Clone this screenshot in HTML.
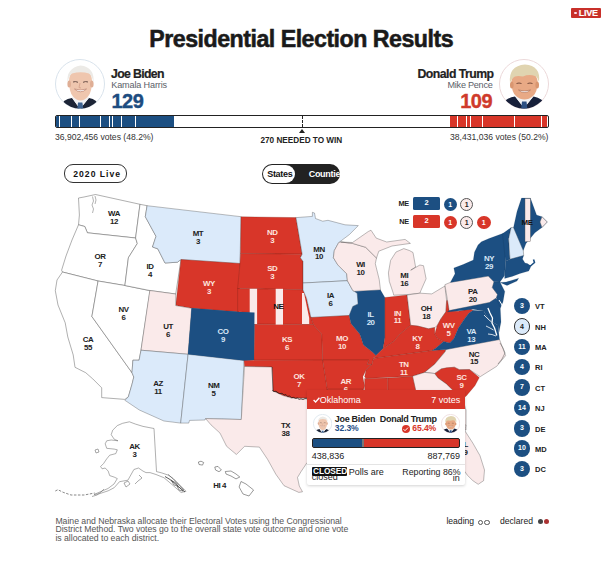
<!DOCTYPE html>
<html><head><meta charset="utf-8"><style>
html,body{margin:0;padding:0;width:609px;height:561px;overflow:hidden;background:#fff;}
body{position:relative;font-family:"Liberation Sans",sans-serif;color:#222;}
.abs{position:absolute;white-space:nowrap;}
.lab{position:absolute;width:40px;text-align:center;font-weight:700;font-size:7.9px;line-height:7.9px;letter-spacing:-0.45px;}
.circ{position:absolute;left:513.7px;width:16.6px;height:16.6px;box-sizing:border-box;border-radius:50%;text-align:center;font-weight:700;font-size:7px;line-height:16.6px;}
.clab{position:absolute;left:535px;font-weight:700;font-size:7.5px;line-height:10px;color:#222;}
.tick{position:absolute;top:1px;width:1px;height:10.5px;background:#fff;}
</style></head><body>
<!-- LIVE badge -->
<div class="abs" style="left:571px;top:8px;width:30px;height:10px;background:#c8302a;border-radius:1px"></div>
<div class="abs" style="left:574.3px;top:11.6px;width:2.6px;height:2.6px;border-radius:50%;background:#fde"></div>
<div class="abs" style="left:578.8px;top:7.7px;font-size:9px;line-height:10.5px;font-weight:700;color:#fff;letter-spacing:-0.25px;-webkit-text-stroke:0.15px #fff">LIVE</div>

<div class="abs" style="left:149.3px;top:24.6px;font-size:23.2px;line-height:28px;font-weight:700;color:#1a1a1a;letter-spacing:-0.5px;-webkit-text-stroke:0.55px #1a1a1a">Presidential Election Results</div>

<!-- Biden -->
<svg class="abs" style="left:55px;top:59px" width="50" height="50" viewBox="0 0 50 50">
<defs><clipPath id="cb"><circle cx="25" cy="25" r="24.5"/></clipPath></defs>
<circle cx="25" cy="25" r="24.5" fill="#fff" stroke="#d9e3ec" stroke-width="1"/>
<g clip-path="url(#cb)">
<path d="M6 51 L9 42 Q12.5 39.5 17 39 L25 50 L34 39 Q38 39.5 41 42 L45 51 Z" fill="#1c2436"/>
<path d="M17 38.5 L25 50 L34 38.5 L31 35 L20 35 Z" fill="#f1f2f4"/>
<path d="M23 43.5 L27.4 43.5 L28.4 51 L22.2 51 Z" fill="#3d6290"/>
<path d="M14 22 Q14 11 25.5 11 Q37 11 37 22 Q37 33 33 37.5 Q29.5 41.5 25.5 41.5 Q21.5 41.5 18 37.5 Q14 33 14 22 Z" fill="#efc6ae"/>
<ellipse cx="14.2" cy="25" rx="1.8" ry="3.5" fill="#dfae95"/>
<ellipse cx="36.8" cy="25" rx="1.8" ry="3.5" fill="#dfae95"/>
<path d="M12.5 24 Q11 9 25.5 6.5 Q40 8 38.5 24 Q37 16 34 14.5 Q26 12 17 14.5 Q14 16 12.5 24 Z" fill="#eceae6"/>
<path d="M18 23 Q20.5 22 23 23.3 M28 23.3 Q30.5 22 33 23" stroke="#6b5048" stroke-width="1" fill="none"/>
<path d="M19.5 30 Q25.5 35.5 31.5 30 Q25.5 32 19.5 30 Z" fill="#fff" stroke="#b57a68" stroke-width="0.6"/>
<path d="M25 24 L24 28.5 L26 29" stroke="#cf9a82" stroke-width="0.7" fill="none"/>
</g></svg>
<div class="abs" style="left:111px;top:67px;font-size:12.3px;line-height:14px;font-weight:700;letter-spacing:-0.65px;color:#222;-webkit-text-stroke:0.2px #222">Joe Biden</div>
<div class="abs" style="left:111.3px;top:79.5px;font-size:9.1px;line-height:10px;color:#5a6068;letter-spacing:-0.15px">Kamala Harris</div>
<div class="abs" style="left:111.5px;top:90px;font-size:20px;line-height:22px;font-weight:700;letter-spacing:-0.55px;color:#1d4c80;-webkit-text-stroke:0.4px #1d4c80">129</div>

<!-- Trump -->
<svg class="abs" style="left:499px;top:59px" width="50" height="50" viewBox="0 0 50 50">
<defs><clipPath id="ct"><circle cx="25" cy="25" r="24.5"/></clipPath></defs>
<circle cx="25" cy="25" r="24.5" fill="#fff" stroke="#ecd9da" stroke-width="1"/>
<g clip-path="url(#ct)">
<path d="M4 51 L7 41 Q11 38 16 37.5 L25 49 L34.5 37.5 Q39 38 43 41 L47 51 Z" fill="#17203a"/>
<path d="M16 37 L25 49 L34.5 37 L31 34 L20 34 Z" fill="#f1f2f4"/>
<path d="M23 42.5 L27.5 42.5 L28.5 51 L22 51 Z" fill="#2b4f82"/>
<path d="M12.5 23 Q12.5 13 25.5 13 Q38.5 13 38.5 23 Q38.5 33 34 37 Q30 40.5 25.5 40.5 Q21 40.5 17 37 Q12.5 33 12.5 23 Z" fill="#e8a985"/>
<ellipse cx="12.8" cy="26" rx="1.8" ry="3.5" fill="#d99670"/>
<ellipse cx="38.2" cy="26" rx="1.8" ry="3.5" fill="#d99670"/>
<path d="M11 24 Q9 7 26 5.5 Q42 6.5 40 23 Q38 17 36 17 Q30 15 24 17.5 Q16 16 14 19 Q12 21 11 24 Z" fill="#e0d4b0"/>
<path d="M17.5 24.5 Q20 23.5 22.5 24.5 M28.5 24.5 Q31 23.5 33.5 24.5" stroke="#7a4e3c" stroke-width="1" fill="none"/>
<path d="M19.5 31 Q25.5 36 31.5 31 Q25.5 33 19.5 31 Z" fill="#fff" stroke="#a86a50" stroke-width="0.6"/>
</g></svg>
<div class="abs" style="left:417.5px;top:67px;font-size:12.3px;line-height:14px;font-weight:700;letter-spacing:-0.55px;color:#222;-webkit-text-stroke:0.2px #222">Donald Trump</div>
<div class="abs" style="left:447.5px;top:79.5px;font-size:9.1px;line-height:10px;color:#5a6068;letter-spacing:-0.25px">Mike Pence</div>
<div class="abs" style="left:460.3px;top:90px;font-size:20px;line-height:22px;font-weight:700;letter-spacing:-0.55px;color:#cf3a2b;-webkit-text-stroke:0.4px #cf3a2b">109</div>

<!-- bar -->
<div class="abs" style="left:55px;top:115px;width:491.5px;height:10.5px;border:1px solid #222;border-radius:2px;background:#fff;overflow:hidden">
 <div class="abs" style="left:0;top:0;width:118px;height:10.5px;background:#1c4f82"></div>
 <div class="abs" style="left:394.4px;top:0;width:97.1px;height:10.5px;background:#d83629"></div>
</div>
<div class="abs" style="left:56px;top:115px;width:0;height:0"><div class="tick" style="left:2.7px"></div><div class="tick" style="left:14.7px"></div><div class="tick" style="left:22.7px"></div><div class="tick" style="left:44.1px"></div><div class="tick" style="left:52.6px"></div><div class="tick" style="left:55.6px"></div><div class="tick" style="left:65.3px"></div><div class="tick" style="left:78.6px"></div><div class="tick" style="left:400.5px"></div><div class="tick" style="left:410.0px"></div><div class="tick" style="left:413.6px"></div><div class="tick" style="left:425.5px"></div><div class="tick" style="left:457.5px"></div><div class="tick" style="left:484.6px"></div></div>
<div class="abs" style="left:301.5px;top:116px;width:0;height:10.5px;border-left:1px dashed #222"></div>
<div class="abs" style="left:298.8px;top:129.3px;width:0;height:0;border-left:3.2px solid transparent;border-right:3.2px solid transparent;border-bottom:4px solid #222"></div>
<div class="abs" style="left:260.5px;top:136.2px;font-size:8.2px;line-height:10px;font-weight:700;color:#222">270 NEEDED TO WIN</div>
<div class="abs" style="left:55px;top:132px;font-size:8.6px;line-height:10px;color:#333">36,902,456 votes (48.2%)</div>
<div class="abs" style="left:450px;top:132px;font-size:8.6px;line-height:10px;color:#333">38,431,036 votes (50.2%)</div>

<!-- toggles -->
<div class="abs" style="left:64.3px;top:164.3px;width:61px;height:16.4px;border:1.2px solid #333;border-radius:9px;background:#fff"></div>
<div class="abs" style="left:73.3px;top:168.5px;font-size:8.6px;line-height:10px;font-weight:700;color:#111;letter-spacing:1.0px">2020 Live</div>
<div class="abs" style="left:261.7px;top:164px;width:78.6px;height:19.9px;border-radius:10px;background:#222;overflow:hidden">
 <div class="abs" style="left:1px;top:1px;width:32.6px;height:17.9px;border-radius:9px;background:#fff"></div>
 <div class="abs" style="left:5.5px;top:4.8px;font-size:9px;line-height:10px;font-weight:700;color:#111;letter-spacing:-0.3px">States</div>
 <div class="abs" style="left:47px;top:4.8px;font-size:9px;line-height:10px;font-weight:700;color:#fff;letter-spacing:-0.3px">Counties</div>
</div>

<!-- map -->
<svg class="abs" style="left:0;top:0" width="609" height="561" viewBox="0 0 609 561">
<polygon points="78.5,198.0 84.0,197.0 95.5,194.5 140.0,204.3 135.6,238.0 87.4,232.8 84.8,226.5 78.5,224.8 79.4,215.0" fill="#ffffff" stroke="#555" stroke-width="0.55" stroke-opacity="0.85" stroke-linejoin="round"/><polygon points="78.5,224.8 84.8,226.5 87.4,232.8 135.6,238.0 137.3,243.5 128.4,257.7 124.9,285.5 98.1,281.0 62.5,272.0 61.6,270.2 66.0,256.0 72.0,240.0" fill="#ffffff" stroke="#555" stroke-width="0.55" stroke-opacity="0.85" stroke-linejoin="round"/><polygon points="62.5,272.0 98.1,281.0 91.9,316.5 132.0,372.7 133.8,377.0 132.0,384.3 128.4,396.7 124.9,399.4 101.7,397.6 101.7,387.8 92.8,378.9 85.7,372.7 75.0,367.3 73.2,354.9 67.8,337.0 65.2,322.8 58.0,305.0 55.3,290.7 57.0,280.0" fill="#ffffff" stroke="#555" stroke-width="0.55" stroke-opacity="0.85" stroke-linejoin="round"/><polygon points="98.1,281.0 124.9,285.5 150.0,290.7 141.0,350.2 139.1,360.2 132.9,360.2 132.0,372.7 91.9,316.5" fill="#ffffff" stroke="#555" stroke-width="0.55" stroke-opacity="0.85" stroke-linejoin="round"/><polygon points="140.0,204.3 147.1,205.7 145.3,216.7 156.0,236.3 152.5,247.0 157.8,248.8 165.0,263.0 177.4,262.2 181.0,259.5 175.7,294.0 149.8,290.5 124.9,285.5 128.4,257.7 137.3,243.5 135.6,238.0" fill="#ffffff" stroke="#555" stroke-width="0.55" stroke-opacity="0.85" stroke-linejoin="round"/><polygon points="147.1,205.7 241.0,216.7 240.0,263.5 181.0,259.5 177.4,262.2 165.0,263.0 157.8,248.8 152.5,247.0 156.0,236.3 145.3,216.7" fill="#dbeafa" stroke="#333" stroke-width="0.55" stroke-opacity="0.6" stroke-linejoin="round"/><polygon points="181.0,259.5 240.0,263.5 239.0,311.9 191.7,308.3 175.7,305.6" fill="#d83629" stroke="#5a1a12" stroke-width="0.5" stroke-opacity="0.45" stroke-linejoin="round"/><polygon points="149.8,290.5 175.7,294.0 175.7,305.6 191.7,308.3 188.1,354.3 141.0,350.2" fill="#faeaea" stroke="#333" stroke-width="0.55" stroke-opacity="0.6" stroke-linejoin="round"/><polygon points="191.7,308.3 239.0,311.9 254.5,312.5 254.0,360.0 244.0,360.6 188.1,354.3" fill="#1c4f82" stroke="#102a48" stroke-width="0.4" stroke-opacity="0.3" stroke-linejoin="round"/><polygon points="141.0,350.2 188.1,354.3 180.7,423.1 163.9,421.0 139.3,410.0 124.9,400.3 128.4,396.7 132.0,384.3 133.8,377.0 132.0,372.7 132.9,360.2 139.1,360.2" fill="#dbeafa" stroke="#333" stroke-width="0.55" stroke-opacity="0.6" stroke-linejoin="round"/><polygon points="188.1,354.3 244.0,360.6 241.3,419.5 205.6,418.6 205.0,420.0 189.6,420.4 188.7,423.1 180.7,423.1" fill="#dbeafa" stroke="#333" stroke-width="0.55" stroke-opacity="0.6" stroke-linejoin="round"/><polygon points="241.0,216.7 296.0,217.6 300.4,243.5 302.2,254.2 240.5,253.5" fill="#d83629" stroke="#5a1a12" stroke-width="0.5" stroke-opacity="0.45" stroke-linejoin="round"/><polygon points="240.5,253.5 302.2,254.2 300.4,257.7 303.0,261.3 303.0,289.8 237.6,288.5 240.0,263.5" fill="#d83629" stroke="#5a1a12" stroke-width="0.5" stroke-opacity="0.45" stroke-linejoin="round"/><polygon points="237.6,288.5 303.0,289.8 306.6,298.4 310.5,315.5 313.5,324.5 254.5,324.2 254.5,312.5 237.6,311.7" fill="#d83629" stroke="#5a1a12" stroke-width="0.5" stroke-opacity="0.45" stroke-linejoin="round"/><polygon points="254.5,324.2 313.5,324.5 316.0,328.0 321.8,334.2 322.7,360.3 254.0,360.3" fill="#d83629" stroke="#5a1a12" stroke-width="0.5" stroke-opacity="0.45" stroke-linejoin="round"/><polygon points="244.0,360.2 322.7,360.0 327.3,389.2 327.5,398.0 307.7,398.1 291.7,398.1 282.8,395.5 273.0,391.0 272.0,367.0 244.5,366.5" fill="#d83629" stroke="#5a1a12" stroke-width="0.5" stroke-opacity="0.45" stroke-linejoin="round"/><polygon points="244.5,366.5 272.0,367.0 273.0,391.0 282.8,395.5 291.7,398.1 327.5,398.0 330.0,425.0 332.0,445.0 307.0,462.7 301.0,471.7 297.5,477.5 299.3,486.0 302.5,491.8 298.8,492.4 284.0,485.7 275.8,474.2 267.6,459.4 259.4,447.1 244.6,446.3 236.4,454.5 226.6,446.3 220.0,433.1 211.0,424.9 205.6,418.6 241.3,419.5" fill="#faeaea" stroke="#333" stroke-width="0.55" stroke-opacity="0.6" stroke-linejoin="round"/><polygon points="296.0,217.6 312.4,216.4 312.4,212.3 314.5,213.0 315.5,218.5 322.7,221.2 328.0,220.3 345.0,224.8 358.3,225.6 349.4,234.6 338.7,242.6 334.3,250.6 333.4,257.7 337.8,264.9 346.7,273.8 347.4,280.7 303.0,283.0 303.0,261.3 300.4,257.7 302.2,254.2 300.4,243.5" fill="#dbeafa" stroke="#333" stroke-width="0.55" stroke-opacity="0.6" stroke-linejoin="round"/><polygon points="303.0,283.0 347.4,280.7 352.8,290.5 357.2,293.2 358.1,303.9 352.8,306.5 349.2,315.5 311.0,317.5 310.5,315.5 306.6,298.4 303.0,289.8" fill="#dbeafa" stroke="#333" stroke-width="0.55" stroke-opacity="0.6" stroke-linejoin="round"/><polygon points="311.0,317.5 349.2,315.5 351.0,323.5 359.9,334.2 363.5,344.9 372.4,352.0 376.0,355.6 373.5,358.0 372.0,364.5 367.0,364.5 368.8,360.0 322.7,360.0 321.8,334.2 316.0,328.0 313.5,324.5" fill="#d83629" stroke="#5a1a12" stroke-width="0.5" stroke-opacity="0.45" stroke-linejoin="round"/><polygon points="322.7,360.0 368.8,360.0 367.0,364.5 372.0,364.5 366.0,370.0 362.8,376.7 364.6,385.7 363.0,392.0 327.3,392.0 327.3,389.2" fill="#d83629" stroke="#5a1a12" stroke-width="0.5" stroke-opacity="0.45" stroke-linejoin="round"/><polygon points="327.3,389.0 363.0,389.0 363.0,420.0 330.0,420.0" fill="#d83629" stroke="#5a1a12" stroke-width="0.5" stroke-opacity="0.45" stroke-linejoin="round"/><polygon points="338.7,242.6 340.7,242.0 352.5,243.4 365.7,247.3 376.5,258.0 375.3,263.7 379.2,279.4 380.5,290.0 354.6,291.4 352.8,290.5 347.4,280.7 346.7,273.8 337.8,264.9 333.4,257.7 334.3,250.6" fill="#faeaea" stroke="#333" stroke-width="0.55" stroke-opacity="0.6" stroke-linejoin="round"/><polygon points="340.7,242.0 352.5,242.5 368.3,231.5 371.0,230.2 376.2,238.1 386.7,242.0 405.1,239.4 410.4,243.4 392.0,246.0 378.8,251.2 376.5,258.0 365.7,247.3 352.5,243.4" fill="#faeaea" stroke="#333" stroke-width="0.55" stroke-opacity="0.6" stroke-linejoin="round"/><polygon points="403.8,248.6 409.4,250.5 413.0,252.5 415.6,267.0 410.7,270.2 419.9,265.0 423.5,265.7 426.1,278.8 420.9,290.6 419.9,293.2 408.1,294.5 393.7,295.2 393.3,293.3 389.3,281.4 388.4,272.9 390.6,260.4 396.0,252.0" fill="#faeaea" stroke="#333" stroke-width="0.55" stroke-opacity="0.6" stroke-linejoin="round"/><polygon points="354.6,291.4 380.5,290.0 384.9,297.6 384.9,337.7 383.1,348.4 376.0,355.6 372.4,352.0 363.5,344.9 359.9,334.2 351.0,323.5 349.2,315.5 352.8,306.5 358.1,303.9 357.2,293.2" fill="#1c4f82" stroke="#102a48" stroke-width="0.4" stroke-opacity="0.3" stroke-linejoin="round"/><polygon points="384.9,297.6 393.7,296.5 407.1,295.0 410.7,325.3 400.0,334.0 393.8,341.3 383.1,348.4 384.9,337.7" fill="#d83629" stroke="#5a1a12" stroke-width="0.5" stroke-opacity="0.45" stroke-linejoin="round"/><polygon points="407.1,295.0 419.9,293.2 431.8,293.9 444.9,286.0 446.6,300.5 445.9,311.8 440.7,319.2 437.0,326.0 434.8,327.5 428.5,328.8 417.8,326.1 410.7,325.3" fill="#faeaea" stroke="#333" stroke-width="0.55" stroke-opacity="0.6" stroke-linejoin="round"/><polygon points="376.0,355.6 383.1,348.4 393.8,341.3 400.0,334.0 410.7,325.3 417.8,326.1 428.5,328.8 434.8,327.5 434.8,334.0 437.7,338.4 443.6,341.4 436.0,348.0 432.1,350.5 373.5,358.5" fill="#d83629" stroke="#5a1a12" stroke-width="0.5" stroke-opacity="0.45" stroke-linejoin="round"/><polygon points="434.8,334.0 437.0,326.0 440.7,319.2 445.9,311.8 446.6,300.5 448.8,300.5 449.0,311.0 458.4,311.2 462.8,310.3 470.2,308.9 473.2,310.3 468.8,313.3 464.3,319.2 458.4,328.1 454.0,338.4 449.6,342.9 443.6,341.4 437.7,338.4" fill="#d83629" stroke="#5a1a12" stroke-width="0.5" stroke-opacity="0.45" stroke-linejoin="round"/><polygon points="373.5,358.5 432.1,350.5 446.0,349.5 445.3,351.6 434.6,364.3 424.6,372.4 412.5,376.3 366.3,378.5 364.6,377.0 366.0,370.0 372.0,364.5" fill="#d83629" stroke="#5a1a12" stroke-width="0.5" stroke-opacity="0.45" stroke-linejoin="round"/><polygon points="446.0,349.5 499.5,339.5 505.6,355.6 496.7,366.3 480.2,376.7 469.5,369.6 459.3,369.7 454.3,367.2 441.2,368.9 434.6,373.5 424.6,372.4 434.6,364.3 445.3,351.6" fill="#faeaea" stroke="#333" stroke-width="0.55" stroke-opacity="0.6" stroke-linejoin="round"/><polygon points="434.6,373.8 441.2,368.9 446.3,367.8 454.3,367.2 459.3,369.7 469.5,369.6 479.3,377.6 474.9,385.7 466.0,396.3 462.4,398.1 453.5,391.0 446.3,383.9 438.0,378.0" fill="#d83629" stroke="#5a1a12" stroke-width="0.5" stroke-opacity="0.45" stroke-linejoin="round"/><polygon points="412.5,376.3 424.6,372.4 434.6,373.5 438.0,378.0 446.3,383.9 453.5,391.0 462.4,398.1 466.0,410.0 466.0,430.0 420.0,430.0 415.5,389.7" fill="#faeaea" stroke="#333" stroke-width="0.55" stroke-opacity="0.6" stroke-linejoin="round"/><polygon points="420.0,425.0 466.0,425.0 464.8,430.7 472.9,443.2 480.0,455.7 484.5,470.0 483.6,480.7 478.2,484.3 472.9,480.7 467.5,475.4 460.0,465.0 420.0,440.0" fill="#faeaea" stroke="#333" stroke-width="0.55" stroke-opacity="0.6" stroke-linejoin="round"/><polygon points="387.7,378.0 412.5,376.3 415.5,389.7 416.0,430.0 388.0,430.0" fill="#d83629" stroke="#5a1a12" stroke-width="0.5" stroke-opacity="0.45" stroke-linejoin="round"/><polygon points="364.6,378.5 387.7,378.0 388.0,430.0 364.6,430.0" fill="#d83629" stroke="#5a1a12" stroke-width="0.5" stroke-opacity="0.45" stroke-linejoin="round"/><polygon points="444.9,284.7 450.3,282.4 488.3,276.1 494.0,281.8 492.3,287.6 497.5,294.5 496.3,298.0 489.4,302.5 449.2,310.6" fill="#faeaea" stroke="#333" stroke-width="0.55" stroke-opacity="0.6" stroke-linejoin="round"/><polygon points="450.3,282.4 455.0,273.8 453.8,268.0 463.0,264.6 473.3,260.0 474.5,252.0 478.0,245.0 481.4,241.7 489.0,238.5 504.6,232.8 505.5,261.3 504.6,275.6 500.0,282.0 494.0,281.8 488.3,276.1" fill="#1c4f82" stroke="#102a48" stroke-width="0.4" stroke-opacity="0.3" stroke-linejoin="round"/><polygon points="500.0,282.5 506.2,282.0 518.7,278.2 517.0,281.0 507.0,285.5" fill="#1c4f82" stroke="#102a48" stroke-width="0.4" stroke-opacity="0.3" stroke-linejoin="round"/><polygon points="502.5,233.7 511.2,227.5 508.7,238.7 510.0,259.3 505.5,261.3" fill="#1c4f82" stroke="#102a48" stroke-width="0.4" stroke-opacity="0.3" stroke-linejoin="round"/><polygon points="511.2,227.5 513.5,227.4 523.3,250.6 523.7,255.5 510.0,259.3 508.7,238.7" fill="#dbeafa" stroke="#333" stroke-width="0.55" stroke-opacity="0.6" stroke-linejoin="round"/><polygon points="513.5,227.4 517.0,211.4 521.5,198.0 530.4,198.0 536.6,215.0 542.0,216.7 547.3,222.0 542.0,227.4 534.9,232.8 526.0,243.5 523.3,250.6" fill="#1c4f82" stroke="#102a48" stroke-width="0.4" stroke-opacity="0.3" stroke-linejoin="round"/><polygon points="505.5,261.3 510.0,259.3 523.7,255.5 522.5,259.0 525.0,263.0 527.4,263.6 531.0,266.0 530.0,268.5 528.7,271.1 520.0,273.5 512.0,276.5 504.6,278.5" fill="#1c4f82" stroke="#102a48" stroke-width="0.4" stroke-opacity="0.3" stroke-linejoin="round"/><polygon points="500.0,282.0 504.8,291.4 503.0,302.0 500.3,308.3 495.0,302.0 497.1,298.5 496.3,298.0 497.5,294.5 492.3,287.6 494.0,281.8" fill="#1c4f82" stroke="#102a48" stroke-width="0.4" stroke-opacity="0.3" stroke-linejoin="round"/><polygon points="449.2,310.6 489.4,302.5 496.3,298.0 500.3,308.3 501.0,322.0 499.0,332.0 498.0,325.3 489.1,320.0 483.8,311.0 473.0,309.2 457.0,311.0 447.2,311.9" fill="#1c4f82" stroke="#102a48" stroke-width="0.4" stroke-opacity="0.3" stroke-linejoin="round"/><polygon points="432.1,350.5 436.0,348.0 443.6,341.4 449.6,342.9 454.0,338.4 458.4,328.1 464.3,319.2 468.8,313.3 473.2,310.3 483.8,311.0 489.1,320.0 498.0,325.3 499.0,335.0 499.5,339.5 446.0,349.5" fill="#1c4f82" stroke="#102a48" stroke-width="0.4" stroke-opacity="0.3" stroke-linejoin="round"/><polygon points="112.7,430.2 117.3,425.6 122.6,423.3 129.4,421.8 135.5,424.1 143.0,426.4 154.0,428.5 156.5,471.6 161.4,472.8 168.8,475.3 176.2,481.4 186.0,491.3 181.1,492.5 171.3,483.9 163.9,477.7 156.0,474.5 150.0,472.6 146.0,472.6 143.0,471.1 138.5,468.0 133.9,469.5 127.9,480.2 119.5,481.7 114.2,487.7 108.2,490.8 99.1,493.8 94.0,494.5 99.1,492.3 108.0,488.5 114.0,484.0 117.3,478.6 114.2,477.1 109.7,475.6 108.2,471.1 105.2,468.0 102.1,468.8 100.6,466.5 103.6,463.5 106.7,458.9 109.7,455.2 115.8,453.6 117.3,449.8 114.2,449.1 106.7,448.3 105.2,443.8 106.7,440.8 111.2,440.0 118.0,440.8 114.2,439.2 111.2,434.7" fill="#ffffff" stroke="#555" stroke-width="0.55" stroke-opacity="0.85" stroke-linejoin="round"/><rect x="249.7" y="288.8" width="7.4" height="35.2" fill="#faeaea"/><rect x="275.7" y="288.8" width="7.3" height="35.8" fill="#faeaea"/><polygon points="302,293 304,293 309.2,318 309.2,324 302,324" fill="#faeaea"/><polygon points="191.7,308.3 239.0,311.9 254.5,312.5 254.0,360.0 244.0,360.6 188.1,354.3" fill="#1c4f82"/><rect x="525" y="198.5" width="5.4" height="43.2" fill="#faeaea" stroke="#555" stroke-width="0.4"/><polygon points="542,216.7 547.3,222 542,227.4 540,222" fill="#faeaea" stroke="#555" stroke-width="0.4"/><polyline points="272.4,390.6 274.0,391.6 276.0,391.2 278.0,392.8 279.8,393.6 282.0,393.3 284.0,395.0 286.0,394.6 287.5,396.4 289.5,396.0 291.5,397.6 293.7,397.4 295.5,398.5 297.5,398.0 299.0,399.4 301.0,398.8 303.0,399.5 305.0,398.6 307.5,398.8" fill="none" stroke="#2a1a18" stroke-width="1" stroke-opacity="0.8" stroke-linejoin="round"/><polyline points="272,367 273,391" fill="none" stroke="#2a1a18" stroke-width="0.7" stroke-opacity="0.6"/><polyline points="525,266 531,265.5 534.5,262.5 533.5,259.5" fill="none" stroke="#1c4f82" stroke-width="1.6" stroke-linejoin="round"/><polyline points="92.5,196.5 93.5,201 92,205 93.5,209 92.5,213" fill="none" stroke="#666" stroke-width="0.5"/><polyline points="95,196 96,200 95,204" fill="none" stroke="#666" stroke-width="0.5"/><polyline points="55.3,491 57.9,489.7 63.1,492.3 71,495 84.2,495 94.7,493" fill="none" stroke="#555" stroke-width="0.7" stroke-dasharray="2.5,1.5"/><polygon points="124,483 128,481 130,484 126,487" fill="#fff" stroke="#555" stroke-width="0.5"/><polygon points="95,450 98,449 99,452 96,453" fill="#fff" stroke="#555" stroke-width="0.5"/><polyline points="165,476.5 170,479.5 175,483.5 180,488 185,492" fill="none" stroke="#444" stroke-width="0.9"/><polyline points="168,474.5 173,478.5 178,484 184,490" fill="none" stroke="#555" stroke-width="0.6"/><polygon points="171,480 176,483 178,486 174,485" fill="none" stroke="#444" stroke-width="0.6"/><polygon points="177,486 181,488.5 183,491 179,490" fill="none" stroke="#444" stroke-width="0.6"/><polyline points="139,475 142,478 138,481 135,484" fill="none" stroke="#555" stroke-width="0.5"/><polyline points="104,489 101,492 97,495 92,496.5" fill="none" stroke="#555" stroke-width="0.5"/><polyline points="487.9,308 490,313 492.5,318 492,323 494.5,328 496.8,335.5" fill="none" stroke="#fff" stroke-width="1.3" stroke-linejoin="round"/><polyline points="484,315 488,319 491.5,322" fill="none" stroke="#fff" stroke-width="0.8"/><polyline points="486,326 490,328 493.5,330" fill="none" stroke="#fff" stroke-width="0.8"/><polyline points="488,334 492,334.5 496,336" fill="none" stroke="#fff" stroke-width="0.8"/><polyline points="499,300 501.5,304 503,308" fill="none" stroke="#fff" stroke-width="1"/><polyline points="500,343 503,348 505,353 502,359 498,364" fill="none" stroke="#555" stroke-width="0.5"/><polygon points="198.4,462.0 201.0,461.2 203.7,462.5 202.5,465.1 199.0,464.5" fill="#fff" stroke="#555" stroke-width="0.6"/><polygon points="214.8,467.0 218.0,466.4 221.4,470.0 219.0,471.7 215.5,470.0" fill="#fff" stroke="#555" stroke-width="0.6"/><polygon points="225.3,471.5 231.0,471.0 236.0,474.0 239.8,477.0 236.0,478.9 231.0,476.0 226.0,474.0" fill="#fff" stroke="#555" stroke-width="0.6"/><polygon points="241.0,481.5 246.0,484.0 253.6,490.0 249.0,496.0 243.0,494.0 239.1,487.0" fill="#fff" stroke="#555" stroke-width="0.6"/>
</svg>
<div class="lab" style="left:94px;top:209.9px;color:#222">WA<br>12</div><div class="lab" style="left:80px;top:252.9px;color:#222">OR<br>7</div><div class="lab" style="left:130px;top:262.9px;color:#222">ID<br>4</div><div class="lab" style="left:178px;top:229.9px;color:#222">MT<br>3</div><div class="lab" style="left:189px;top:279.9px;color:#fde4df">WY<br>3</div><div class="lab" style="left:148px;top:323.4px;color:#222">UT<br>6</div><div class="lab" style="left:203px;top:327.9px;color:#d8e8f7">CO<br>9</div><div class="lab" style="left:103.5px;top:305.9px;color:#222">NV<br>6</div><div class="lab" style="left:68px;top:336.4px;color:#222">CA<br>55</div><div class="lab" style="left:138px;top:379.9px;color:#222">AZ<br>11</div><div class="lab" style="left:193.6px;top:382.4px;color:#222">NM<br>5</div><div class="lab" style="left:252.3px;top:229.4px;color:#fde4df">ND<br>3</div><div class="lab" style="left:252.3px;top:265.2px;color:#fde4df">SD<br>3</div><div class="lab" style="left:267px;top:336.2px;color:#fde4df">KS<br>6</div><div class="lab" style="left:279px;top:372.59999999999997px;color:#fde4df">OK<br>7</div><div class="lab" style="left:265.5px;top:422.4px;color:#222">TX<br>38</div><div class="lab" style="left:299px;top:245.5px;color:#222">MN<br>10</div><div class="lab" style="left:310.5px;top:291.7px;color:#222">IA<br>6</div><div class="lab" style="left:322px;top:335.4px;color:#fde4df">MO<br>10</div><div class="lab" style="left:350.6px;top:311.29999999999995px;color:#d8e8f7">IL<br>20</div><div class="lab" style="left:377.4px;top:309.5px;color:#fde4df">IN<br>11</div><div class="lab" style="left:340.5px;top:260.7px;color:#222">WI<br>10</div><div class="lab" style="left:384.3px;top:272.29999999999995px;color:#222">MI<br>16</div><div class="lab" style="left:406.3px;top:305.0px;color:#222">OH<br>18</div><div class="lab" style="left:452.8px;top:287.9px;color:#222">PA<br>20</div><div class="lab" style="left:428.6px;top:322.0px;color:#fde4df">WV<br>5</div><div class="lab" style="left:451.3px;top:328.2px;color:#d8e8f7">VA<br>13</div><div class="lab" style="left:397.4px;top:335.4px;color:#fde4df">KY<br>8</div><div class="lab" style="left:454px;top:350.5px;color:#222">NC<br>15</div><div class="lab" style="left:383.8px;top:361.0px;color:#fde4df">TN<br>11</div><div class="lab" style="left:325.8px;top:377.9px;color:#fde4df">AR<br>6</div><div class="lab" style="left:441.5px;top:374.2px;color:#fde4df">SC<br>9</div><div class="lab" style="left:469px;top:255.4px;color:#d8e8f7">NY<br>29</div><div class="lab" style="left:114.5px;top:442.7px;color:#222">AK<br>3</div><div class="lab" style="left:443.5px;top:440.7px;color:#222">FL<br>29</div><div class="lab" style="left:507px;top:218.5px;color:#111">ME</div><div class="lab" style="left:258.4px;top:302.5px;color:#111;font-size:8px">NE</div><div class="lab" style="left:199.5px;top:482px;color:#222;width:40px">HI 4</div>

<!-- ME/NE legend -->
<div class="abs" style="left:398.4px;top:199px;font-size:7.3px;line-height:10px;font-weight:700;color:#222;letter-spacing:-0.3px">ME</div>
<div class="abs" style="left:399.3px;top:217.3px;font-size:7.3px;line-height:10px;font-weight:700;color:#222;letter-spacing:-0.3px">NE</div>
<div class="abs" style="left:413.4px;top:197.2px;width:26.2px;height:12.8px;border-radius:1.5px;background:#1c4f82;color:#fff;font-size:7.5px;font-weight:700;line-height:12.8px;text-align:center">2</div>
<div class="abs" style="left:443.7px;top:197.5px;width:13px;height:13px;border-radius:50%;background:#1c4f82;color:#fff;font-size:7px;font-weight:700;line-height:13px;text-align:center">1</div>
<div class="abs" style="left:460.2px;top:197.5px;width:13px;height:13px;box-sizing:border-box;border:1px solid #555;border-radius:50%;background:#faeaea;color:#222;font-size:7px;font-weight:700;line-height:11px;text-align:center">1</div>
<div class="abs" style="left:413.4px;top:215.3px;width:26.2px;height:12.8px;border-radius:1.5px;background:#d83629;color:#fff;font-size:7.5px;font-weight:700;line-height:12.8px;text-align:center">2</div>
<div class="abs" style="left:443.7px;top:215.7px;width:13px;height:13px;border-radius:50%;background:#d83629;color:#fff;font-size:7px;font-weight:700;line-height:13px;text-align:center">1</div>
<div class="abs" style="left:460.2px;top:215.7px;width:13px;height:13px;box-sizing:border-box;border:1px solid #555;border-radius:50%;background:#faeaea;color:#222;font-size:7px;font-weight:700;line-height:11px;text-align:center">1</div>
<div class="abs" style="left:477px;top:215.7px;width:13.5px;height:13px;border-radius:50%;background:#d83629;color:#fff;font-size:7px;font-weight:700;line-height:13px;text-align:center">1</div>

<div class="circ" style="top:297.7px;background:#1c4f82;border:none;color:#fff">3</div><div class="clab" style="top:302.2px">VT</div><div class="circ" style="top:318.1px;background:#dbeafa;border:1px solid #333;color:#222">4</div><div class="clab" style="top:322.6px">NH</div><div class="circ" style="top:338.5px;background:#1c4f82;border:none;color:#fff">11</div><div class="clab" style="top:343.0px">MA</div><div class="circ" style="top:358.8px;background:#1c4f82;border:none;color:#fff">4</div><div class="clab" style="top:363.3px">RI</div><div class="circ" style="top:379.2px;background:#1c4f82;border:none;color:#fff">7</div><div class="clab" style="top:383.7px">CT</div><div class="circ" style="top:399.6px;background:#1c4f82;border:none;color:#fff">14</div><div class="clab" style="top:404.1px">NJ</div><div class="circ" style="top:420.0px;background:#1c4f82;border:none;color:#fff">3</div><div class="clab" style="top:424.5px">DE</div><div class="circ" style="top:440.4px;background:#1c4f82;border:none;color:#fff">10</div><div class="clab" style="top:444.9px">MD</div><div class="circ" style="top:460.7px;background:#1c4f82;border:none;color:#fff">3</div><div class="clab" style="top:465.2px">DC</div>

<!-- popup -->
<div class="abs" style="left:306.8px;top:389.5px;width:158.2px;height:95.5px;background:#fff;box-shadow:0 1px 3px rgba(0,0,0,0.18);border-radius:0 0 2px 2px;overflow:hidden">
 <div class="abs" style="left:0;top:0;width:158.2px;height:19px;background:#d83629"></div>
 <svg class="abs" style="left:5.8px;top:7.5px" width="7" height="6" viewBox="0 0 7 6"><path d="M0.6 3 L2.6 5 L6.4 0.8" stroke="#fff" stroke-width="1.3" fill="none"/></svg>
 <div class="abs" style="left:13px;top:5.5px;font-size:9px;line-height:10px;color:#fff">Oklahoma</div>
 <div class="abs" style="left:124.5px;top:5.5px;font-size:9px;line-height:10px;color:#fff">7 votes</div>
 <div class="abs" style="left:28px;top:24.5px;font-size:9px;line-height:10px;font-weight:700;color:#222;letter-spacing:-0.3px">Joe Biden</div>
 <div class="abs" style="left:28px;top:33.5px;font-size:8.6px;line-height:10px;font-weight:700;color:#1f4f87;letter-spacing:-0.1px">32.3%</div>
 <div class="abs" style="left:73px;top:24.5px;font-size:9px;line-height:10px;font-weight:700;color:#222;letter-spacing:-0.3px">Donald Trump</div>
 <div class="abs" style="left:95.2px;top:35px;width:8px;height:8px;border-radius:50%;background:#d83629"></div>
 <svg class="abs" style="left:96.5px;top:37px" width="5.5" height="4.5" viewBox="0 0 5.5 4.5"><path d="M0.5 2.2 L2 3.7 L5 0.6" stroke="#fff" stroke-width="1" fill="none"/></svg>
 <div class="abs" style="left:105.5px;top:33.5px;font-size:8.6px;line-height:10px;font-weight:700;color:#d83629;letter-spacing:-0.1px">65.4%</div>
 <div class="abs" style="left:5px;top:48.7px;width:146.4px;height:7.8px;border:1px solid #222;border-radius:2px;overflow:hidden;background:#d83629">
  <div class="abs" style="left:0;top:0;width:48.8px;height:7.8px;background:#1c4f82"></div>
  <div class="abs" style="left:48.8px;top:0;width:2.4px;height:7.8px;background:#777"></div>
 </div>
 <div class="abs" style="left:5px;top:61.5px;font-size:9px;line-height:10px;color:#222">438,836</div>
 <div class="abs" style="left:120.8px;top:61.5px;font-size:9px;line-height:10px;color:#222">887,769</div>
 <div class="abs" style="left:0;top:74.7px;width:158.2px;height:1px;background:#e4e4e4"></div>
 <div class="abs" style="left:5px;top:82.5px;font-size:9px;line-height:10px;color:#222">closed</div>
 <div class="abs" style="left:5px;top:77px;width:35px;height:9.5px;background:#111;border-radius:1px"></div>
 <div class="abs" style="left:6.3px;top:76.8px;font-size:8.3px;line-height:10px;font-weight:700;color:#fff;letter-spacing:-0.1px">CLOSED</div>
 <div class="abs" style="left:42px;top:77px;font-size:9px;line-height:10px;color:#222">Polls are</div>
 <div class="abs" style="left:95.5px;top:77px;font-size:8.8px;line-height:10px;color:#222">Reporting 86%</div>
 <div class="abs" style="left:146px;top:83.5px;font-size:9px;line-height:10px;color:#222">in</div>
</div>
<!-- popup photos -->
<svg class="abs" style="left:312.6px;top:414.2px" width="19.2" height="19.2" viewBox="0 0 50 50">
<defs><clipPath id="cb2"><circle cx="25" cy="25" r="24"/></clipPath></defs>
<circle cx="25" cy="25" r="24" fill="#fff" stroke="#d9e3ec" stroke-width="2"/>
<g clip-path="url(#cb2)">
<path d="M6 51 L9 42 Q12.5 39.5 17 39 L25 50 L34 39 Q38 39.5 41 42 L45 51 Z" fill="#1c2436"/>
<path d="M17 38.5 L25 50 L34 38.5 L31 35 L20 35 Z" fill="#f1f2f4"/>
<path d="M23 43.5 L27.4 43.5 L28.4 51 L22.2 51 Z" fill="#3d6290"/>
<path d="M14 22 Q14 11 25.5 11 Q37 11 37 22 Q37 33 33 37.5 Q29.5 41.5 25.5 41.5 Q21.5 41.5 18 37.5 Q14 33 14 22 Z" fill="#efc6ae"/>
<ellipse cx="14.2" cy="25" rx="1.8" ry="3.5" fill="#dfae95"/>
<ellipse cx="36.8" cy="25" rx="1.8" ry="3.5" fill="#dfae95"/>
<path d="M12.5 24 Q11 9 25.5 6.5 Q40 8 38.5 24 Q37 16 34 14.5 Q26 12 17 14.5 Q14 16 12.5 24 Z" fill="#eceae6"/>
<path d="M18 23 Q20.5 22 23 23.3 M28 23.3 Q30.5 22 33 23" stroke="#6b5048" stroke-width="1" fill="none"/>
<path d="M19.5 30 Q25.5 35.5 31.5 30 Q25.5 32 19.5 30 Z" fill="#fff" stroke="#b57a68" stroke-width="0.6"/>
<path d="M25 24 L24 28.5 L26 29" stroke="#cf9a82" stroke-width="0.7" fill="none"/>
</g></svg>
<svg class="abs" style="left:440.5px;top:414.2px" width="19.2" height="19.2" viewBox="0 0 50 50">
<defs><clipPath id="ct2"><circle cx="25" cy="25" r="24"/></clipPath></defs>
<circle cx="25" cy="25" r="24" fill="#fff" stroke="#ecd9da" stroke-width="2"/>
<g clip-path="url(#ct2)">
<path d="M4 51 L7 41 Q11 38 16 37.5 L25 49 L34.5 37.5 Q39 38 43 41 L47 51 Z" fill="#17203a"/>
<path d="M16 37 L25 49 L34.5 37 L31 34 L20 34 Z" fill="#f1f2f4"/>
<path d="M23 42.5 L27.5 42.5 L28.5 51 L22 51 Z" fill="#2b4f82"/>
<path d="M12.5 23 Q12.5 13 25.5 13 Q38.5 13 38.5 23 Q38.5 33 34 37 Q30 40.5 25.5 40.5 Q21 40.5 17 37 Q12.5 33 12.5 23 Z" fill="#e8a985"/>
<ellipse cx="12.8" cy="26" rx="1.8" ry="3.5" fill="#d99670"/>
<ellipse cx="38.2" cy="26" rx="1.8" ry="3.5" fill="#d99670"/>
<path d="M11 24 Q9 7 26 5.5 Q42 6.5 40 23 Q38 17 36 17 Q30 15 24 17.5 Q16 16 14 19 Q12 21 11 24 Z" fill="#e0d4b0"/>
<path d="M17.5 24.5 Q20 23.5 22.5 24.5 M28.5 24.5 Q31 23.5 33.5 24.5" stroke="#7a4e3c" stroke-width="1" fill="none"/>
<path d="M19.5 31 Q25.5 36 31.5 31 Q25.5 33 19.5 31 Z" fill="#fff" stroke="#a86a50" stroke-width="0.6"/>
</g></svg>

<!-- footer -->
<div class="abs" style="left:55.4px;top:516.5px;font-size:8.7px;line-height:8.6px;color:#555;letter-spacing:-0.02px">Maine and Nebraska allocate their Electoral Votes using the Congressional<br>District Method. Two votes go to the overall state vote outcome and one vote<br>is allocated to each district.</div>
<div class="abs" style="left:446.4px;top:516px;font-size:8.6px;line-height:10px;color:#222">leading</div>
<div class="abs" style="left:477.5px;top:519.5px;width:3.5px;height:3.5px;border:0.8px solid #555;border-radius:50%"></div>
<div class="abs" style="left:484px;top:519.5px;width:3.5px;height:3.5px;border:0.8px solid #555;border-radius:50%"></div>
<div class="abs" style="left:500px;top:516px;font-size:8.6px;line-height:10px;color:#222">declared</div>
<div class="abs" style="left:537.5px;top:519.3px;width:5px;height:5px;background:#444;border-radius:50%"></div>
<div class="abs" style="left:544px;top:519.3px;width:5px;height:5px;background:#a33;border-radius:50%"></div>
</body></html>
